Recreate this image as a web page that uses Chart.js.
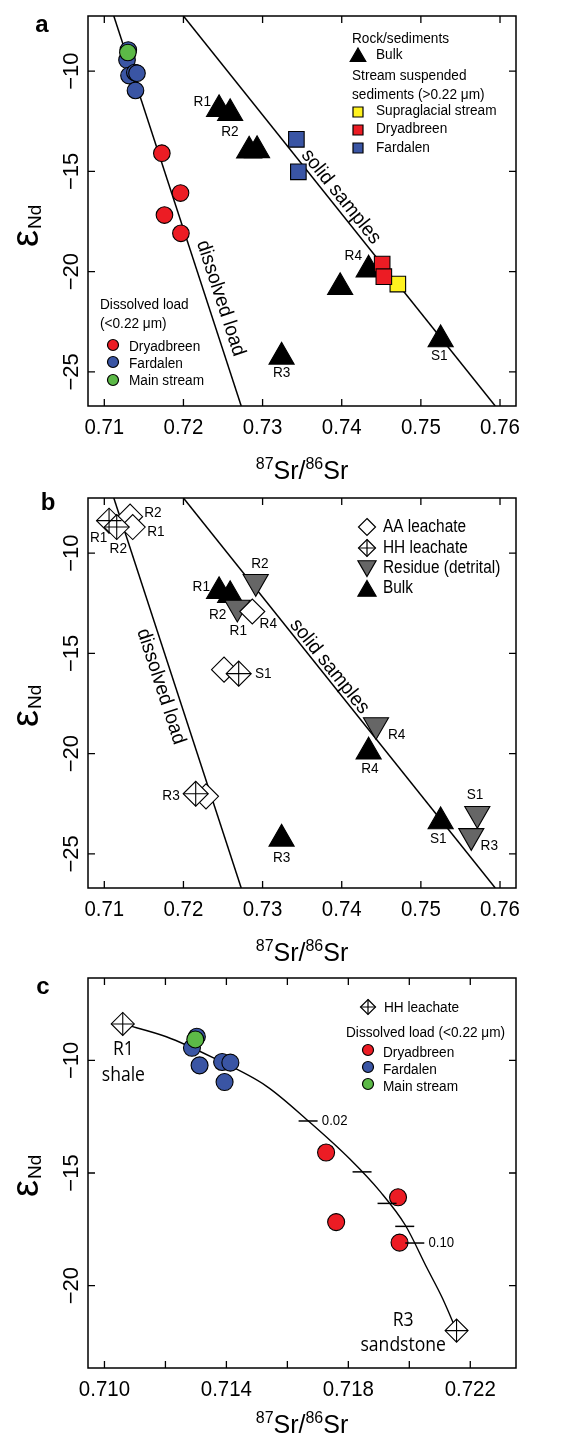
<!DOCTYPE html>
<html>
<head>
<meta charset="utf-8">
<script src="https://cdn.jsdelivr.net/npm/chart.js@4.4.0/dist/chart.umd.min.js"></script>
<style>
  html, body { margin: 0; padding: 0; background: #fff; }
  body { width: 568px; height: 1434px; position: relative; overflow: hidden; }
  canvas { position: absolute; left: 0; }
</style>
</head>
<body>
<canvas id="ca" width="568" height="482" style="top:0"></canvas>
<canvas id="cb" width="568" height="480" style="top:482px"></canvas>
<canvas id="cc" width="568" height="472" style="top:962px"></canvas>
<script>
// axis ticks
const xTicksAB = [0.71, 0.72, 0.73, 0.74, 0.75, 0.76];
const yTicksAB = [-10, -15, -20, -25];
const xTicksC = [0.710, 0.712, 0.714, 0.716, 0.718, 0.720, 0.722];
const xLabelsC = [0.710, 0.714, 0.718, 0.722];
const yTicksC = [-10, -15, -20];

// dissolved load (<0.22 um)
const dryX = [0.71727, 0.71963, 0.71760, 0.71968];
const dryY = [-14.09, -16.08, -17.18, -18.09];
const farX = [0.71287, 0.71303, 0.71312, 0.71386, 0.71413, 0.71394];
const farY = [-9.44, -8.95, -10.22, -10.07, -10.10, -10.96];
const mainX = [0.71298];
const mainY = [-9.07];

// stream suspended sediments (>0.22 um)
const supraX = [0.74709];
const supraY = [-20.62];
const sedDryX = [0.74511, 0.74532];
const sedDryY = [-19.62, -20.25];
const sedFarX = [0.73427, 0.73452];
const sedFarY = [-13.40, -15.02];

// rock samples
const bulkName = ['R1', 'R2', '', '', 'R4', '', 'R3', 'S1'];
const bulkX = [0.7245, 0.7259, 0.7283, 0.7293, 0.7434, 0.7398, 0.7324, 0.7525];
const bulkY = [-11.90, -12.10, -13.97, -13.95, -19.90, -20.78, -24.25, -23.38];
const aaName = ['R2', 'R1', 'R4', 'S1', 'R3'];
const aaX = [0.71326, 0.71359, 0.72870, 0.72513, 0.72285];
const aaY = [-8.18, -8.70, -12.91, -15.81, -22.13];
const hhName = ['R1', 'R2', 'S1', 'R3'];
const hhX = [0.71060, 0.71157, 0.72698, 0.72155];
const hhY = [-8.38, -8.70, -16.01, -22.00];
const resName = ['R2', 'R1', 'R4', 'S1', 'R3'];
const resX = [0.72913, 0.72681, 0.74433, 0.75713, 0.75637];
const resY = [-11.43, -12.71, -18.57, -23.00, -24.10];

// trend lines
const dissLineX = [0.7112, 0.7273];
const dissLineY = [-7.25, -26.70];
const solidLineX = [0.7200, 0.7594];
const solidLineY = [-7.25, -26.70];

// R1-R3 mixing curve and its fraction marks
const mixX = [0.71060, 0.71203, 0.71356, 0.71531, 0.71668, 0.71805, 0.71906, 0.71987, 0.72058, 0.72108, 0.72155];
const mixY = [-8.38, -8.95, -9.88, -11.14, -12.68, -14.38, -15.85, -17.32, -19.22, -20.54, -22.00];
const mixTickX = [0.71668, 0.71845, 0.71927, 0.71985, 0.72018];
const mixTickY = [-12.69, -14.95, -16.35, -17.37, -18.11];
const mixTickLabel = ['0.02', '', '', '', '0.10'];

const SANS = '"Liberation Sans", Arial, Helvetica, sans-serif';
const HUM = '"Open Sans", "Noto Sans", sans-serif';
const RED = '#ec1c24', BLUE = '#3a55a4', GREEN = '#5cb947', YELLOW = '#fff21f', GREY = '#666666';

function pts(xs, ys) { return xs.map((x, i) => ({ x: x, y: ys[i] })); }
function pick(names, xs, ys, keep) {
  const ix = names.map((n, i) => i).filter(i => keep.includes(names[i]));
  return [ix.map(i => xs[i]), ix.map(i => ys[i])];
}

function txt(ctx, s, x, y, o) {
  ctx.save();
  ctx.translate(x, y);
  if (o.rot) ctx.rotate(o.rot);
  ctx.scale(o.sx == null ? 0.88 : o.sx, 1);
  ctx.font = (o.bold ? 'bold ' : '') + o.size + 'px ' + (o.family || SANS);
  ctx.fillStyle = '#000';
  ctx.textAlign = o.align || 'left';
  ctx.textBaseline = o.base || 'middle';
  ctx.fillText(s, 0, 0);
  ctx.restore();
}

function mark(ctx, kind, x, y, r, fill) {
  ctx.save();
  ctx.beginPath();
  if (kind === 'circle') ctx.arc(x, y, r, 0, Math.PI * 2);
  else if (kind === 'square') ctx.rect(x - r, y - r, 2 * r, 2 * r);
  else if (kind === 'up') { ctx.moveTo(x, y - r); ctx.lineTo(x + r * 0.866, y + r / 2); ctx.lineTo(x - r * 0.866, y + r / 2); ctx.closePath(); }
  else if (kind === 'down') { ctx.moveTo(x, y + r); ctx.lineTo(x + r * 0.866, y - r / 2); ctx.lineTo(x - r * 0.866, y - r / 2); ctx.closePath(); }
  else { ctx.moveTo(x, y - r); ctx.lineTo(x + r, y); ctx.lineTo(x, y + r); ctx.lineTo(x - r, y); ctx.closePath(); }
  ctx.fillStyle = fill; ctx.fill();
  ctx.lineWidth = 1.2; ctx.strokeStyle = '#000'; ctx.stroke();
  if (kind === 'diamondPlus') {
    ctx.beginPath();
    ctx.moveTo(x, y - r); ctx.lineTo(x, y + r);
    ctx.moveTo(x - r, y); ctx.lineTo(x + r, y);
    ctx.stroke();
  }
  ctx.restore();
}

function symbols(xs, ys, style) {
  return Object.assign({ data: pts(xs, ys), showLine: false, pointBorderColor: '#000', pointBorderWidth: 1.1 }, style);
}
function line(xs, ys, extra) {
  return Object.assign({ data: pts(xs, ys), showLine: true, pointRadius: 0, borderColor: '#000', borderWidth: 1.5, fill: false }, extra || {});
}
// HH leachate = open diamond + plus, two library point styles stacked
function hhSymbols(xs, ys, r) {
  return [
    symbols(xs, ys, { pointStyle: 'cross', pointRadius: r, pointBorderWidth: 1.1 }),
    symbols(xs, ys, { pointStyle: 'rectRot', pointRadius: r, pointBackgroundColor: '#fff' })
  ];
}

function drawSrTitle(ctx, cx, base) {
  const parts = [['87', 16, -10], ['Sr/', 25, 0], ['86', 16, -10], ['Sr', 25, 0]];
  let w = 0;
  parts.forEach(p => { ctx.font = p[1] + 'px ' + SANS; w += ctx.measureText(p[0]).width; });
  let x = cx - w / 2;
  ctx.fillStyle = '#000'; ctx.textAlign = 'left'; ctx.textBaseline = 'alphabetic';
  parts.forEach(p => { ctx.font = p[1] + 'px ' + SANS; ctx.fillText(p[0], x, base + p[2]); x += ctx.measureText(p[0]).width; });
}

function drawEpsTitle(ctx, x, yStart) {
  ctx.save();
  ctx.translate(x, yStart);
  ctx.rotate(-Math.PI / 2);
  ctx.fillStyle = '#000'; ctx.textAlign = 'left'; ctx.textBaseline = 'alphabetic';
  ctx.font = '38px ' + SANS;
  ctx.fillText('\u03b5', 0, 0);
  const w = ctx.measureText('\u03b5').width;
  ctx.font = '19px ' + SANS;
  ctx.fillText('Nd', w + 1, 3);
  ctx.restore();
}

function panelPlugin(p) {
  return {
    id: 'panel' + p.letter,
    afterDatasetsDraw(chart) {
      const ctx = chart.ctx, a = chart.chartArea, xs = chart.scales.x, ys = chart.scales.y;
      ctx.save();
      ctx.strokeStyle = '#000';
      ctx.lineWidth = 1.5;
      ctx.strokeRect(a.left, a.top, a.right - a.left, a.bottom - a.top);
      ctx.lineWidth = 1.3;
      ctx.beginPath();
      xs.ticks.forEach(t => {
        const px = xs.getPixelForValue(t.value);
        ctx.moveTo(px, a.bottom); ctx.lineTo(px, a.bottom - 7);
        ctx.moveTo(px, a.top); ctx.lineTo(px, a.top + 7);
      });
      ys.ticks.forEach(t => {
        const py = ys.getPixelForValue(t.value);
        ctx.moveTo(a.left, py); ctx.lineTo(a.left + 7, py);
        ctx.moveTo(a.right, py); ctx.lineTo(a.right - 7, py);
      });
      ctx.stroke();

      xs.ticks.forEach(t => {
        if (!p.xLabels.includes(t.value)) return;
        txt(ctx, t.value.toFixed(p.digits), xs.getPixelForValue(t.value), a.bottom + 22, { size: 22, align: 'center', sx: 0.93 });
      });
      ys.ticks.forEach(t => {
        txt(ctx, '\u2212' + Math.abs(t.value), a.left - 10, ys.getPixelForValue(t.value), { size: 22, align: 'center', base: 'alphabetic', rot: -Math.PI / 2, sx: 1 });
      });
      drawSrTitle(ctx, (a.left + a.right) / 2, p.titleBase);
      drawEpsTitle(ctx, 38, p.epsStart);
      txt(ctx, p.letter, p.letterPos[0], p.letterPos[1], { size: 24, bold: true, align: 'center', sx: 1 });

      (p.notes || []).forEach(n => {
        txt(ctx, n.t, xs.getPixelForValue(n.x), ys.getPixelForValue(n.y), { size: n.size || 15.5, align: n.align || 'center', family: n.family, sx: n.sx });
      });
      (p.lineNotes || []).forEach(n => {
        const x1 = xs.getPixelForValue(n.lx[0]), y1 = ys.getPixelForValue(n.ly[0]);
        const x2 = xs.getPixelForValue(n.lx[1]), y2 = ys.getPixelForValue(n.ly[1]);
        txt(ctx, n.t, xs.getPixelForValue(n.x), ys.getPixelForValue(n.y), { size: 20, align: 'center', rot: Math.atan2(y2 - y1, x2 - x1), sx: 0.95 });
      });
      if (p.legend) p.legend(ctx);
      ctx.restore();
    }
  };
}

function makeChart(id, p, datasets) {
  const canvas = document.getElementById(id);
  const common = { grid: { display: false }, border: { display: false }, ticks: { display: false } };
  return new Chart(canvas, {
    type: 'scatter',
    data: { datasets: datasets },
    options: {
      responsive: false,
      animation: false,
      events: [],
      layout: { padding: { top: 16, right: 52, left: 0, bottom: 0 } },
      plugins: { legend: { display: false }, tooltip: { enabled: false } },
      scales: {
        x: Object.assign({
          type: 'linear', min: p.xMin, max: p.xMax,
          afterBuildTicks: s => { s.ticks = p.xTicks.map(v => ({ value: v })); },
          afterFit: s => { s.height = canvas.height - 16 - 390; }
        }, common),
        y: Object.assign({
          type: 'linear', min: p.yMin, max: p.yMax,
          afterBuildTicks: s => { s.ticks = p.yTicks.map(v => ({ value: v })); },
          afterFit: s => { s.width = 88; }
        }, common)
      }
    },
    plugins: [panelPlugin(p)]
  });
}

// ---------- panel a ----------
makeChart('ca', {
  letter: 'a', letterPos: [42, 25], epsStart: 247, titleBase: 479,
  xMin: 0.70794, xMax: 0.76202, yMin: -26.7, yMax: -7.25,
  xTicks: xTicksAB, xLabels: xTicksAB, yTicks: yTicksAB, digits: 2,
  notes: [
    { t: 'R1', x: 0.72238, y: -11.53 }, { t: 'R2', x: 0.72588, y: -13.02 },
    { t: 'R4', x: 0.74146, y: -19.22 }, { t: 'R3', x: 0.73242, y: -25.06 },
    { t: 'S1', x: 0.75233, y: -24.20 }
  ],
  lineNotes: [
    { t: 'solid samples', x: 0.73990, y: -16.26, lx: solidLineX, ly: solidLineY },
    { t: 'dissolved load', x: 0.72470, y: -21.33, lx: dissLineX, ly: dissLineY }
  ],
  legend(ctx) {
    txt(ctx, 'Rock/sediments', 352, 39, { size: 15.5 });
    mark(ctx, 'up', 358, 57, 9, '#000');
    txt(ctx, 'Bulk', 376, 55, { size: 15.5 });
    txt(ctx, 'Stream suspended', 352, 76, { size: 15.5 });
    txt(ctx, 'sediments (>0.22 \u03bcm)', 352, 95, { size: 15.5 });
    mark(ctx, 'square', 358, 112, 5, YELLOW);
    txt(ctx, 'Supraglacial stream', 376, 111, { size: 15.5 });
    mark(ctx, 'square', 358, 130, 5, RED);
    txt(ctx, 'Dryadbreen', 376, 129, { size: 15.5 });
    mark(ctx, 'square', 358, 148, 5, BLUE);
    txt(ctx, 'Fardalen', 376, 148, { size: 15.5 });

    txt(ctx, 'Dissolved load', 100, 305, { size: 15.5 });
    txt(ctx, '(<0.22 \u03bcm)', 100, 324, { size: 15.5 });
    mark(ctx, 'circle', 113, 345, 5.5, RED);
    txt(ctx, 'Dryadbreen', 129, 347, { size: 15.5 });
    mark(ctx, 'circle', 113, 362, 5.5, BLUE);
    txt(ctx, 'Fardalen', 129, 364, { size: 15.5 });
    mark(ctx, 'circle', 113, 380, 5.5, GREEN);
    txt(ctx, 'Main stream', 129, 381, { size: 15.5 });
  }
}, [
  symbols(mainX, mainY, { pointStyle: 'circle', pointRadius: 8.3, pointBackgroundColor: GREEN }),
  symbols(farX, farY, { pointStyle: 'circle', pointRadius: 8.3, pointBackgroundColor: BLUE }),
  symbols(dryX, dryY, { pointStyle: 'circle', pointRadius: 8.3, pointBackgroundColor: RED }),
  symbols(sedDryX, sedDryY, { pointStyle: 'rect', pointRadius: 11, pointBackgroundColor: RED }),
  symbols(supraX, supraY, { pointStyle: 'rect', pointRadius: 11, pointBackgroundColor: YELLOW }),
  symbols(sedFarX, sedFarY, { pointStyle: 'rect', pointRadius: 11, pointBackgroundColor: BLUE }),
  symbols(bulkX, bulkY, { pointStyle: 'triangle', pointRadius: 14.5, pointBackgroundColor: '#000' }),
  line(solidLineX, solidLineY),
  line(dissLineX, dissLineY)
]);

// ---------- panel b ----------
const bulkB = pick(bulkName, bulkX, bulkY, ['R1', 'R2', 'R3', 'R4', 'S1']);
makeChart('cb', {
  letter: 'b', letterPos: [48, 21], epsStart: 245, titleBase: 479,
  xMin: 0.70794, xMax: 0.76202, yMin: -26.7, yMax: -7.25,
  xTicks: xTicksAB, xLabels: xTicksAB, yTicks: yTicksAB, digits: 2,
  notes: [
    { t: 'R2', x: 0.71615, y: -7.98 }, { t: 'R1', x: 0.71653, y: -8.92 },
    { t: 'R1', x: 0.70929, y: -9.25 }, { t: 'R2', x: 0.71177, y: -9.80 },
    { t: 'R2', x: 0.72967, y: -10.53 }, { t: 'R1', x: 0.72226, y: -11.69 },
    { t: 'R2', x: 0.72433, y: -13.07 }, { t: 'R1', x: 0.72693, y: -13.87 },
    { t: 'R4', x: 0.73072, y: -13.52 }, { t: 'S1', x: 0.73009, y: -16.01 },
    { t: 'R4', x: 0.74695, y: -19.05 }, { t: 'R4', x: 0.74357, y: -20.75 },
    { t: 'R3', x: 0.71843, y: -22.09 }, { t: 'S1', x: 0.75684, y: -22.04 },
    { t: 'R3', x: 0.75865, y: -24.58 }, { t: 'S1', x: 0.75220, y: -24.25 },
    { t: 'R3', x: 0.73242, y: -25.20 }
  ],
  lineNotes: [
    { t: 'solid samples', x: 0.73845, y: -15.65, lx: solidLineX, ly: solidLineY },
    { t: 'dissolved load', x: 0.71715, y: -16.65, lx: dissLineX, ly: dissLineY }
  ],
  legend(ctx) {
    mark(ctx, 'diamond', 367, 45, 8.5, '#fff');
    txt(ctx, 'AA leachate', 383, 45, { size: 17.5 });
    mark(ctx, 'diamondPlus', 367, 66, 8.5, '#fff');
    txt(ctx, 'HH leachate', 383, 66, { size: 17.5 });
    mark(ctx, 'down', 367, 84, 10.5, GREY);
    txt(ctx, 'Residue (detrital)', 383, 86, { size: 17.5 });
    mark(ctx, 'up', 367, 109, 10.5, '#000');
    txt(ctx, 'Bulk', 383, 106, { size: 17.5 });
  }
}, hhSymbols(hhX, hhY, 12.5).concat([
  symbols(aaX, aaY, { pointStyle: 'rectRot', pointRadius: 12.5, pointBackgroundColor: '#fff' }),
  symbols(resX, resY, { pointStyle: 'triangle', rotation: 180, pointRadius: 14.5, pointBackgroundColor: GREY }),
  symbols(bulkB[0], bulkB[1], { pointStyle: 'triangle', pointRadius: 14.5, pointBackgroundColor: '#000' }),
  line(solidLineX, solidLineY),
  line(dissLineX, dissLineY)
]));

// ---------- panel c ----------
const hhC = pick(hhName, hhX, hhY, ['R1', 'R3']);
const mixNotes = mixTickLabel.map((t, i) => ({ t: t, x: mixTickX[i] + 0.00045, y: mixTickY[i], size: 15, align: 'left' })).filter(n => n.t);
makeChart('cc', {
  letter: 'c', letterPos: [43, 25], epsStart: 235, titleBase: 471,
  xMin: 0.70946, xMax: 0.7235, yMin: -23.66, yMax: -6.34,
  xTicks: xTicksC, xLabels: xLabelsC, yTicks: yTicksC, digits: 3,
  notes: [
    { t: 'R1', x: 0.71062, y: -9.53, size: 19.5, family: HUM, sx: 0.9 },
    { t: 'shale', x: 0.71062, y: -10.66, size: 19.5, family: HUM, sx: 0.9 },
    { t: 'R3', x: 0.71980, y: -21.55, size: 19.5, family: HUM, sx: 0.9 },
    { t: 'sandstone', x: 0.71980, y: -22.66, size: 19.5, family: HUM, sx: 0.9 }
  ].concat(mixNotes),
  legend(ctx) {
    mark(ctx, 'diamondPlus', 368, 45, 7.5, '#fff');
    txt(ctx, 'HH leachate', 384, 46, { size: 15.5 });
    txt(ctx, 'Dissolved load (<0.22 \u03bcm)', 346, 71, { size: 15.5 });
    mark(ctx, 'circle', 368, 88, 5.5, RED);
    txt(ctx, 'Dryadbreen', 383, 91, { size: 15.5 });
    mark(ctx, 'circle', 368, 105, 5.5, BLUE);
    txt(ctx, 'Fardalen', 383, 108, { size: 15.5 });
    mark(ctx, 'circle', 368, 122, 5.5, GREEN);
    txt(ctx, 'Main stream', 383, 125, { size: 15.5 });
  }
}, hhSymbols(hhC[0], hhC[1], 11.5).concat([
  symbols(mixTickX, mixTickY, { pointStyle: 'line', pointRadius: 9.5, pointBorderWidth: 1.5 }),
  symbols(mainX, mainY, { pointStyle: 'circle', pointRadius: 8.5, pointBackgroundColor: GREEN }),
  symbols(farX, farY, { pointStyle: 'circle', pointRadius: 8.5, pointBackgroundColor: BLUE }),
  symbols(dryX, dryY, { pointStyle: 'circle', pointRadius: 8.5, pointBackgroundColor: RED }),
  line(mixX, mixY, { cubicInterpolationMode: 'monotone', borderWidth: 1.4 })
]));
</script>
</body>
</html>
